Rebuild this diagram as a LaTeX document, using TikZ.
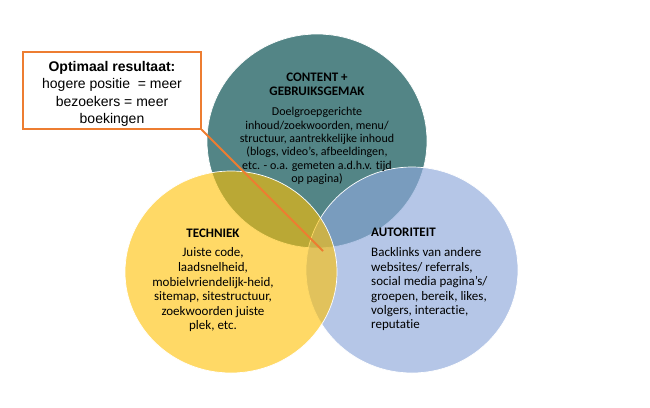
\documentclass[tikz,border=0pt]{standalone}
\usepackage{fontspec}
\setmainfont{Carlito}[Ligatures=NoCommon]
\newfontfamily\calloutfont{Liberation Sans}
\definecolor{tealc}{RGB}{83,133,134}
\definecolor{bluec}{RGB}{142,169,219}
\definecolor{yellowc}{RGB}{255,192,0}
\definecolor{orangec}{RGB}{237,125,49}
\begin{document}
\begin{tikzpicture}[x=1pt,y=-1pt,
  circ/.style={draw=white,line width=0.7pt},
  title/.style={font=\fontsize{13}{14}\selectfont\bfseries,inner sep=0pt},
  bodyc/.style={align=center,inner sep=0pt,anchor=north},
  callout/.style={draw=orangec,line width=1.4pt,fill=white},
  ctext/.style={font=\calloutfont\fontsize{14}{17.3}\selectfont,align=center,inner sep=0pt,anchor=north}]
\useasboundingbox (0,0) rectangle (650,407);
% circles
\path[circ,fill=tealc] (317,141) ellipse [x radius=110,y radius=107];
\path[circ,fill=bluec,fill opacity=0.66] (412,270) ellipse [x radius=106,y radius=103];
\path[circ,fill=yellowc,fill opacity=0.6] (231,272) ellipse [x radius=106,y radius=101];
% teal text
\node[title,align=center,anchor=north] (ct) at (317,72.8) {CONTENT +\\GEBRUIKSGEMAK};
\node[bodyc,font=\fontsize{12}{13.3}\selectfont] (cb) at (317,107.3) {Doelgroepgerichte\\inhoud/zoekwoorden, menu/\\structuur, aantrekkelijke inhoud\\(blogs, video’s, afbeeldingen,\\etc. - o.a. gemeten a.d.h.v. tijd\\op pagina)};
% techniek
\node[title,anchor=base] (tt) at (213,237) {TECHNIEK};
\node[bodyc,font=\fontsize{13}{14.6}\selectfont] (tb) at (213,247.7) {Juiste code,\\laadsnelheid,\\mobielvriendelijk-heid,\\sitemap, sitestructuur,\\zoekwoorden juiste\\plek, etc.};
% autoriteit
\node[title,anchor=base west] (at) at (371,236) {AUTORITEIT};
\node[bodyc,align=left,anchor=north west,font=\fontsize{13}{14.4}\selectfont] (ab) at (371,247.7) {Backlinks van andere\\websites/ referrals,\\social media pagina’s/\\groepen, bereik, likes,\\volgers, interactie,\\reputatie};
% callout
\node[callout,minimum width=178pt,minimum height=77pt,inner sep=0pt] (box) at (112,90.5) {};
\node[ctext] (bt) at (112,61.1) {\textbf{Optimaal resultaat:}\\hogere positie\ \ = meer\\bezoekers = meer\\boekingen};
\coordinate (tip) at (323,251);
\draw[orangec,line width=1.8pt] (box.south east) -- (tip);
\end{tikzpicture}
\end{document}
